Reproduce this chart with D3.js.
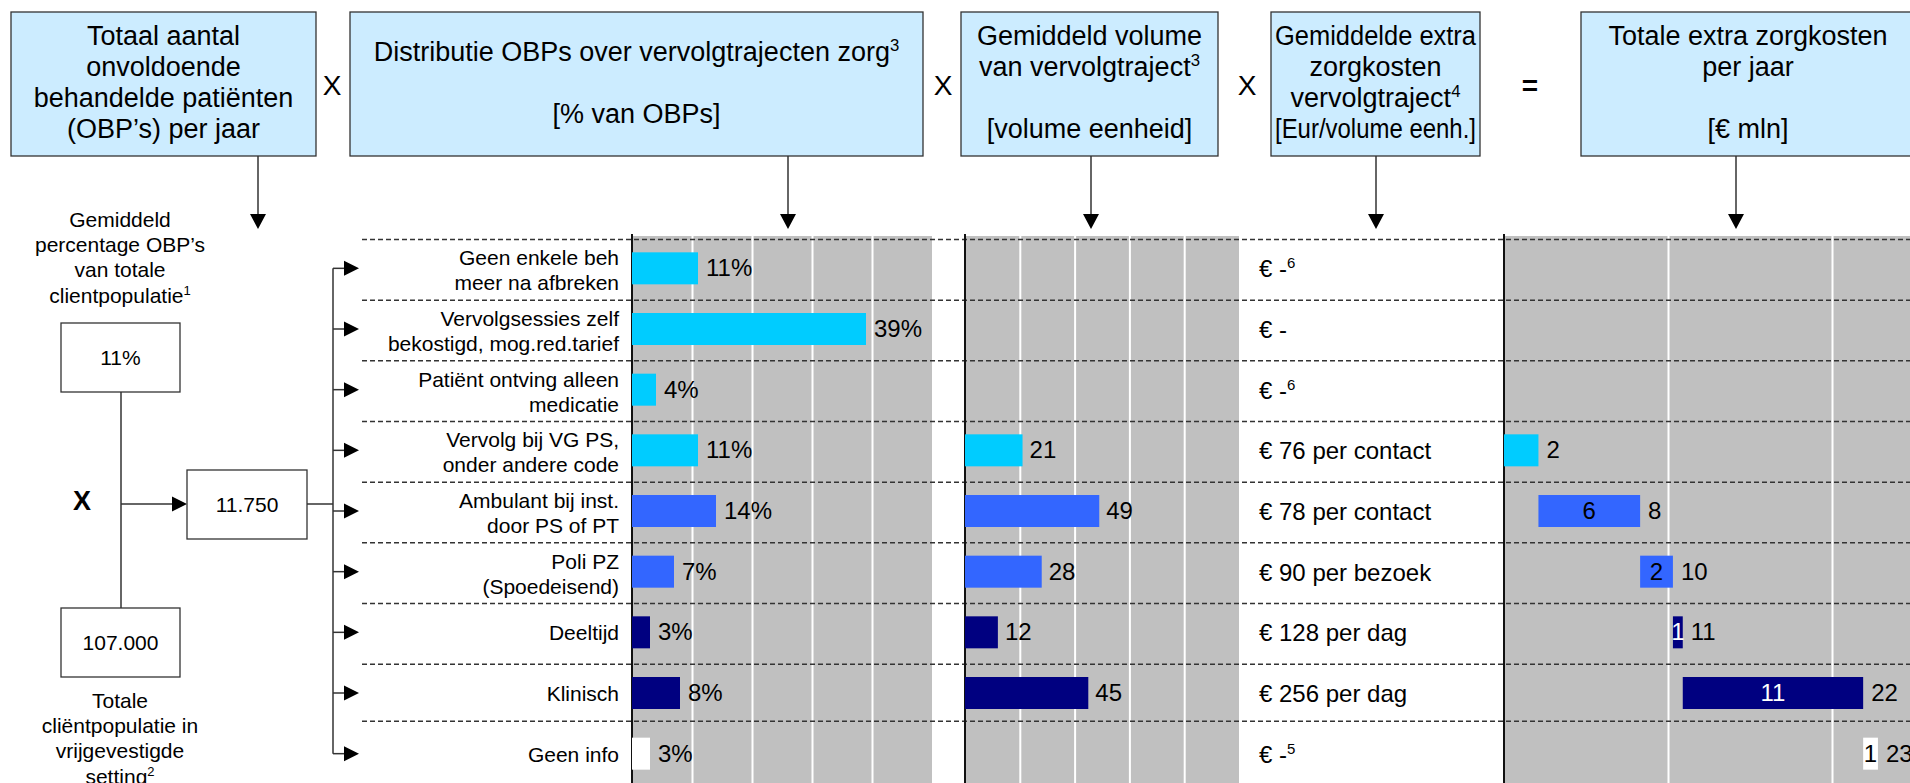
<!DOCTYPE html>
<html>
<head>
<meta charset="utf-8">
<script src="https://cdn.jsdelivr.net/npm/d3@7"></script>
<style>
  body { margin: 0; background: #fff; }
  svg { display: block; font-family: "Liberation Sans", Arial, sans-serif; }
</style>
</head>
<body>
<div id="chart"></div>
<script>
var width = 1910;
var height = 783;

// data
var categories = [
  ["Geen enkele beh", "meer na afbreken"],
  ["Vervolgsessies zelf", "bekostigd, mog.red.tarief"],
  ["Patiënt ontving alleen", "medicatie"],
  ["Vervolg bij VG PS,", "onder andere code"],
  ["Ambulant bij inst.", "door PS of PT"],
  ["Poli PZ", "(Spoedeisend)"],
  ["Deeltijd"],
  ["Klinisch"],
  ["Geen info"]
];
var shares = [11, 39, 4, 11, 14, 7, 3, 8, 3];                 // % van OBPs
var volumes = [null, null, null, 21, 49, 28, 12, 45, null];   // volume eenheid
var tariffs = ["€ -", "€ -", "€ -", "€ 76 per contact", "€ 78 per contact",
               "€ 90 per bezoek", "€ 128 per dag", "€ 256 per dag", "€ -"];
var tariffNotes = ["6", "", "6", "", "", "", "", "", "5"];
var costs = [0, 0, 0, 2.1, 6.2, 2.0, 0.6, 11.0, 0.9];         // € mln per jaar
var barColors = ["#00CCFF", "#00CCFF", "#00CCFF", "#00CCFF", "#3366FF",
                 "#3366FF", "#000080", "#000080", "#FFFFFF"];
var shareTicks = [10, 20, 30, 40];
var volumeTicks = [20, 40, 60, 80];
var costTicks = [10, 20];
var obpShare = "11%";
var totalClients = "107.000";
var obpCount = "11.750";

var headers = [
  {x: 11, w: 305, lines: ["Totaal aantal", "onvoldoende", "behandelde patiënten", "(OBP’s) per jaar"]},
  {x: 350, w: 573, lines: ["Distributie OBPs over vervolgtrajecten zorg^3", "", "[% van OBPs]"]},
  {x: 961, w: 257, lines: ["Gemiddeld volume", "van vervolgtraject^3", "", "[volume eenheid]"]},
  {x: 1271, w: 209, lines: ["Gemiddelde extra", "zorgkosten", "vervolgtraject^4", "[Eur/volume eenh.]"]},
  {x: 1581, w: 334, lines: ["Totale extra zorgkosten", "per jaar", "", "[€ mln]"]}
];
var operators = [{x: 332, t: "X"}, {x: 943, t: "X"}, {x: 1247, t: "X"}, {x: 1530, t: "="}];
var downArrows = [258, 788, 1091, 1376, 1736];

var svg = d3.select("#chart").append("svg")
  .attr("width", width)
  .attr("height", height);

var ink = "#333";

// text with an optional superscript after "^"
function label(g, x, y, str, size, anchor) {
  var parts = str.split("^");
  var t = g.append("text")
    .attr("x", x).attr("y", y)
    .attr("text-anchor", anchor || "middle")
    .attr("font-size", size)
    .attr("fill", "#000");
  t.append("tspan").text(parts[0]);
  if (parts[1]) {
    t.append("tspan").attr("font-size", size * 0.62).attr("dy", -size * 0.36).text(parts[1]);
  }
  return t;
}

function arrowHead(x, y, dir) {
  var p;
  if (dir == "down") p = [[x - 8, y - 15], [x + 8, y - 15], [x, y]];
  else p = [[x - 15, y - 7.5], [x - 15, y + 7.5], [x, y]];
  svg.append("path").attr("d", "M" + p.join("L") + "Z").attr("fill", "#000");
}

function line(x1, y1, x2, y2) {
  svg.append("line")
    .attr("x1", x1).attr("y1", y1).attr("x2", x2).attr("y2", y2)
    .attr("stroke", ink).attr("stroke-width", 1.5);
}

// header boxes, text block centred vertically
headers.forEach(function(h) {
  svg.append("rect")
    .attr("x", h.x).attr("y", 12)
    .attr("width", h.w).attr("height", 144)
    .attr("fill", "#CCECFF").attr("stroke", ink).attr("stroke-width", 1.3);
  var top = 91.5 - (h.lines.length - 1) * 31 / 2;
  h.lines.forEach(function(l, i) {
    if (!l) return;
    var t = label(svg, h.x + h.w / 2, top + i * 31, l, 27);
    // squeeze a line that would spill out of its box
    var len = t.node().getComputedTextLength();
    if (len > h.w - 8) t.attr("textLength", h.w - 8).attr("lengthAdjust", "spacingAndGlyphs");
  });
});
operators.forEach(function(o) {
  svg.append("text").attr("x", o.x).attr("y", 95)
    .attr("text-anchor", "middle")
    .attr("font-size", 28)
    .attr("font-weight", o.t == "=" ? "bold" : "normal")
    .text(o.t);
});
downArrows.forEach(function(x) {
  line(x, 156, x, 216);
  arrowHead(x, 229, "down");
});

// rows
var y = d3.scaleBand().domain(d3.range(categories.length)).range([238, 784]);
var mid = function(i) { return y(i) + y.bandwidth() / 2; };
var barH = 32;

var x1 = d3.scaleLinear().domain([0, 50]).range([632, 932]);
var x2 = d3.scaleLinear().domain([0, 100]).range([965, 1239]);
var x3 = d3.scaleLinear().domain([0, 25]).range([1504, 1914]);

function panel(x, ticks) {
  svg.append("rect")
    .attr("x", x.range()[0]).attr("y", 236)
    .attr("width", x.range()[1] - x.range()[0]).attr("height", 560)
    .attr("fill", "#C0C0C0");
  var g = svg.append("g").attr("transform", "translate(0,236)")
    .call(d3.axisBottom(x).tickValues(ticks).tickSize(560).tickFormat(""));
  g.select(".domain").remove();
  g.selectAll("line").attr("stroke", "#fff").attr("stroke-width", 2);
}
panel(x1, shareTicks);
panel(x2, volumeTicks);
panel(x3, costTicks);

// dashed row separators
svg.append("g").selectAll("line")
  .data(d3.range(categories.length))
  .join("line")
    .attr("x1", 362).attr("x2", 1915)
    .attr("y1", function(i) { return y(i) + (i == categories.length - 1 ? -2 : 1.5); })
    .attr("y2", function(i) { return y(i) + (i == categories.length - 1 ? -2 : 1.5); })
    .attr("stroke", ink).attr("stroke-width", 1.5)
    .attr("stroke-dasharray", "5,3");

[x1, x2, x3].forEach(function(x) {
  svg.append("line")
    .attr("x1", x(0)).attr("x2", x(0)).attr("y1", 234).attr("y2", 790)
    .attr("stroke", "#111").attr("stroke-width", 2);
});

// category labels
categories.forEach(function(c, i) {
  if (c.length == 2) {
    label(svg, 619, mid(i) - 3, c[0], 21, "end");
    label(svg, 619, mid(i) + 22, c[1], 21, "end");
  } else {
    label(svg, 619, mid(i) + 8, c[0], 21, "end");
  }
});

// panel 1: distribution
svg.append("g").selectAll("rect")
  .data(shares)
  .join("rect")
    .attr("x", x1(0))
    .attr("y", function(d, i) { return mid(i) - barH / 2; })
    .attr("width", function(d) { return x1(d) - x1(0); })
    .attr("height", barH)
    .attr("fill", function(d, i) { return barColors[i]; });
shares.forEach(function(d, i) {
  label(svg, x1(d) + 8, mid(i) + 8, d + "%", 24, "start");
});

// panel 2: volume
volumes.forEach(function(d, i) {
  if (d == null) return;
  svg.append("rect")
    .attr("x", x2(0)).attr("y", mid(i) - barH / 2)
    .attr("width", x2(d) - x2(0)).attr("height", barH)
    .attr("fill", barColors[i]);
  label(svg, x2(d) + 7, mid(i) + 8, String(d), 24, "start");
});

// tariff column
tariffs.forEach(function(d, i) {
  var t = label(svg, 1259, mid(i) + 9, d, 24, "start");
  if (tariffNotes[i]) {
    t.append("tspan").attr("font-size", 15).attr("dy", -9).text(tariffNotes[i]);
  }
});

// panel 3: waterfall of costs
var start = 0;
costs.forEach(function(d, i) {
  if (!d) return;
  var end = start + d;
  svg.append("rect")
    .attr("x", x3(start)).attr("y", mid(i) - barH / 2)
    .attr("width", x3(end) - x3(start)).attr("height", barH)
    .attr("fill", barColors[i]);
  if (start > 0) {
    label(svg, (x3(start) + x3(end)) / 2, mid(i) + 8, String(Math.round(d)), 24)
      .attr("fill", barColors[i] == "#000080" ? "#fff" : "#000");
  }
  label(svg, x3(end) + 8, mid(i) + 8, String(Math.round(end)), 24, "start");
  start = end;
});

// left: how the number of OBPs is built
var leftTop = ["Gemiddeld", "percentage OBP’s", "van totale", "clientpopulatie^1"];
var leftBottom = ["Totale", "cliëntpopulatie in", "vrijgevestigde", "setting^2"];
leftTop.forEach(function(l, i) { label(svg, 120, 227 + i * 25.2, l, 21); });
leftBottom.forEach(function(l, i) { label(svg, 120, 708 + i * 25.2, l, 21); });

function box(x, yy, w, h, txt) {
  svg.append("rect").attr("x", x).attr("y", yy).attr("width", w).attr("height", h)
    .attr("fill", "#fff").attr("stroke", ink).attr("stroke-width", 1.3);
  label(svg, x + w / 2, yy + h / 2 + 7.5, txt, 21);
}
line(121, 392, 121, 608);
box(61, 323, 119, 69, obpShare);
box(61, 608, 119, 69, totalClients);
svg.append("text").attr("x", 82).attr("y", 510).attr("text-anchor", "middle")
  .attr("font-size", 27).attr("font-weight", "bold").text("X");
line(121, 504, 174, 504);
arrowHead(187, 504, "right");
box(187, 470, 120, 69, obpCount);
line(307, 504, 333, 504);
line(333, mid(0), 333, mid(categories.length - 1));
categories.forEach(function(c, i) {
  line(333, mid(i), 346, mid(i));
  arrowHead(359, mid(i), "right");
});
</script>
</body>
</html>
